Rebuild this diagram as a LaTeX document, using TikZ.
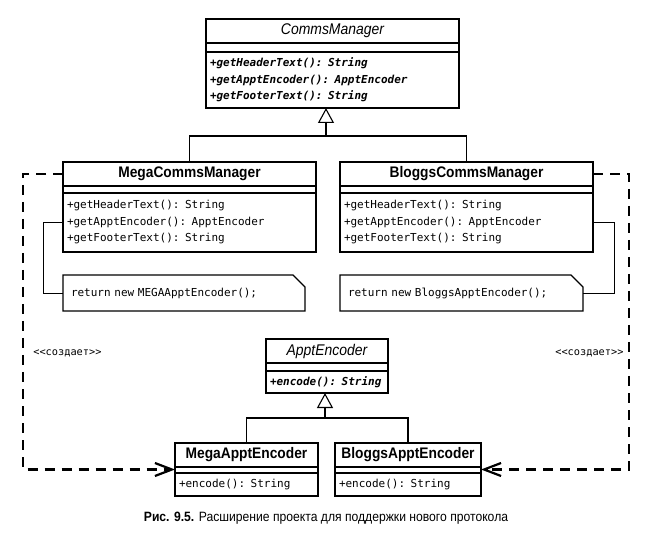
\documentclass[tikz,border=0pt]{standalone}
\usepackage{fontspec}
\setmainfont{Liberation Sans}
\setmonofont{DejaVu Sans Mono}
\newfontfamily\umlfont[FakeStretch=0.9]{Liberation Sans}
\newfontfamily\capfont[FakeStretch=0.9]{Liberation Sans}
\usetikzlibrary{arrows.meta, positioning, fit}

\begin{document}
\begin{tikzpicture}[
    x=1pt, y=1pt,
    line width=1.1pt,
    every node/.style={outer sep=0pt},
    cname/.style={draw, minimum width=253pt, minimum height=24pt, inner sep=0pt, font=\umlfont\fontsize{15.3}{18}\selectfont\bfseries},
    aname/.style={cname, font=\umlfont\fontsize{15.5}{18}\selectfont\itshape},
    ops/.style={draw, align=left, inner xsep=4pt, inner ysep=0pt, font=\ttfamily\fontsize{11}{16.5}\selectfont},
    aops/.style={ops, font=\ttfamily\fontsize{11}{16.5}\selectfont\bfseries\itshape},
    outline/.style={draw, inner sep=0pt, fit=#1},
    memo/.style={inner xsep=8pt, align=left, minimum height=36pt, font=\ttfamily\fontsize{11}{13}\selectfont},
    link/.style={line width=0.9pt},
    generalize/.style={-{Triangle[open, length=15pt, width=16pt]}},
    creates/.style={dash pattern=on 10pt off 7pt, line width=2.2pt, -{Straight Barb[length=17pt, width=13pt]}},
    stereo/.style={anchor=west, font=\ttfamily\fontsize{10.3}{12}\selectfont}
]
    \useasboundingbox (0,0) rectangle (654,-540);

    % Abstract manager
    \node[aname, anchor=north west] (cmt) at (206,-19) {CommsManager};
    \node[aops, text width=245pt, minimum height=56pt, below right=9pt and 0pt of cmt.south west] (cmo) {+getHeaderText(): String\\+getApptEncoder(): ApptEncoder\\+getFooterText(): String};
    \node[outline=(cmt)(cmo)] (cm) {};

    % Concrete managers
    \node[cname, anchor=north west] (mcmt) at (63,-162) {MegaCommsManager};
    \node[ops, text width=245pt, minimum height=59pt, below right=7pt and 0pt of mcmt.south west] (mcmo) {+getHeaderText(): String\\+getApptEncoder(): ApptEncoder\\+getFooterText(): String};
    \node[outline=(mcmt)(mcmo)] (mcm) {};

    \node[cname, right=24pt of mcmt] (bcmt) {BloggsCommsManager};
    \node[ops, text width=245pt, minimum height=59pt, below right=7pt and 0pt of bcmt.south west] (bcmo) {+getHeaderText(): String\\+getApptEncoder(): ApptEncoder\\+getFooterText(): String};
    \node[outline=(bcmt)(bcmo)] (bcm) {};

    % Notes
    \node[memo, text width=226pt, below right=23pt and 0pt of mcm.south west] (mnote) {return new MEGAApptEncoder();};
    \draw ([xshift=-12pt]mnote.north east) -- (mnote.north west) -- (mnote.south west) -- (mnote.south east) -- ([yshift=-12pt]mnote.north east) -- cycle;
    \node[memo, text width=227pt, below right=23pt and 0pt of bcm.south west] (bnote) {return new BloggsApptEncoder();};
    \draw ([xshift=-12pt]bnote.north east) -- (bnote.north west) -- (bnote.south west) -- (bnote.south east) -- ([yshift=-12pt]bnote.north east) -- cycle;

    % Encoders
    \node[aname, minimum width=122pt, anchor=north west] (aet) at (266,-339) {ApptEncoder};
    \node[aops, text width=114pt, minimum height=22pt, below right=8pt and 0pt of aet.south west] (aeo) {+encode(): String};
    \node[outline=(aet)(aeo)] (ae) {};

    \node[cname, minimum width=143pt, anchor=north west] (maet) at (175,-443) {MegaApptEncoder};
    \node[ops, text width=135pt, minimum height=23pt, below right=6pt and 0pt of maet.south west] (maeo) {+encode(): String};
    \node[outline=(maet)(maeo)] (mae) {};

    \node[cname, minimum width=146pt, right=17pt of maet] (baet) {BloggsApptEncoder};
    \node[ops, text width=138pt, minimum height=23pt, below right=6pt and 0pt of baet.south west] (baeo) {+encode(): String};
    \node[outline=(baet)(baeo)] (bae) {};

    % Generalization
    \coordinate (cmhub) at (326,-136);
    \draw[generalize] (cmhub) -- (cmhub |- cm.south);
    \draw (mcm.north) |- (cmhub) -| (bcm.north);
    \coordinate (aehub) at (325,-418);
    \draw[generalize] (aehub) -- (aehub |- ae.south);
    \draw (mae.north) |- (aehub) -| (bae.north);

    % Note links
    \draw[link] (mcmo.west) -- ++(-20pt,0) |- (mnote.west);
    \draw[link] (bcmo.east) -- ++(21pt,0) |- (bnote.east);

    % Creation
    \draw[creates] (mcmt.west) -- ++(-40pt,0) |- (mae.west);
    \draw[creates] (bcmt.east) -- ++(36pt,0) |- (bae.east);
    \node[stereo] (lcreate) at (30,-353) {<<создает>>};
    \node[stereo] (rcreate) at (552,-353) {<<создает>>};

    % Caption
    \node[font=\capfont\fontsize{13.5}{16}\selectfont] (caption) at (326,-518) {\textbf{Рис. 9.5.} Расширение проекта для поддержки нового протокола};

\end{tikzpicture}
\end{document}
